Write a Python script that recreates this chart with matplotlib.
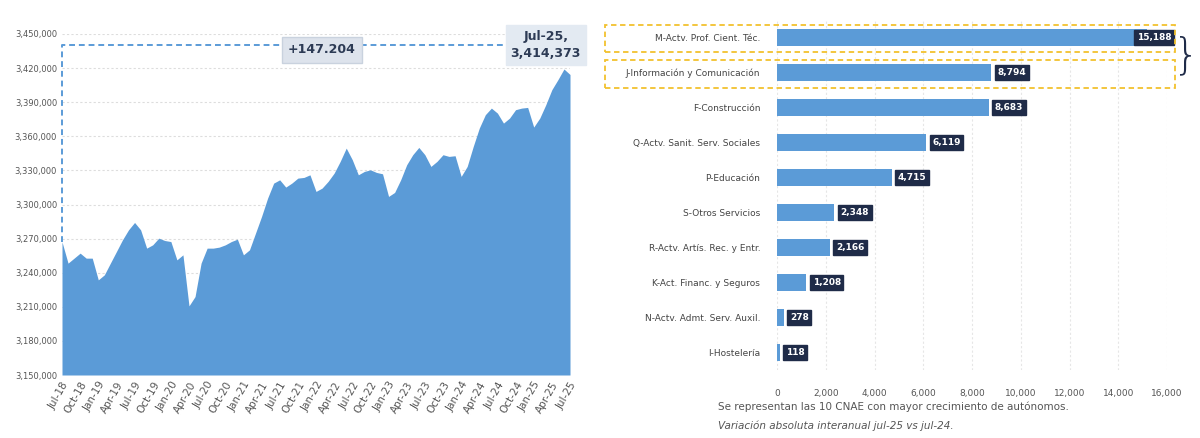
import matplotlib.pyplot as plt
import matplotlib.patches as mpatches
import pandas as pd
from matplotlib.ticker import FuncFormatter

# Afiliados autónomos, miles (jul-18 a jul-25)
afiliados = [
    3267.169, 3248.4, 3252.8, 3257.2, 3252.8, 3252.8, 3233.7, 3238.1, 3248.4, 3258.6,
    3268.9, 3277.7, 3284.2, 3277.7, 3261.6, 3264.5, 3270.4, 3268.3, 3267.4, 3251.3,
    3255.7, 3210.8, 3219.0, 3248.4, 3261.6, 3261.6, 3262.5, 3264.5, 3267.4, 3269.5,
    3255.7, 3260.1, 3274.8, 3289.5, 3305.6, 3318.8, 3321.7, 3315.3, 3318.8, 3323.2,
    3323.8, 3326.1, 3311.5, 3314.4, 3320.3, 3327.6, 3337.9, 3349.6, 3339.4, 3326.1,
    3329.1, 3330.5, 3328.2, 3327.0, 3307.1, 3310.6, 3321.7, 3335.0, 3343.8, 3350.2,
    3343.8, 3333.5, 3337.9, 3343.8, 3342.3, 3342.9, 3324.7, 3333.5, 3351.1, 3367.2,
    3379.0, 3384.8, 3380.4, 3371.6, 3376.0, 3383.4, 3384.8, 3385.4, 3368.1, 3376.0,
    3387.8, 3401.0, 3409.8, 3419.2, 3414.373,
]
afiliados = [round(v * 1000) for v in afiliados]
meses = pd.date_range("2018-07-01", periods=len(afiliados), freq="MS")
mes_labels = [d.strftime("%b-%y") for d in meses]

sectores = [
    "M-Actv. Prof. Cient. Téc.", "J-Información y Comunicación", "F-Construcción",
    "Q-Actv. Sanit. Serv. Sociales", "P-Educación", "S-Otros Servicios",
    "R-Actv. Artís. Rec. y Entr.", "K-Act. Financ. y Seguros",
    "N-Actv. Admt. Serv. Auxil.", "I-Hostelería",
]
variacion = [15188, 8794, 8683, 6119, 4715, 2348, 2166, 1208, 278, 118]

BLUE = "#5b9bd7"
NAVY = "#1f2b48"
GRAY = "#555555"

fig = plt.figure(figsize=(12, 4.38), dpi=100)

## Left chart.
ax = fig.add_axes([62 / 1200, 63 / 438, 508 / 1200, 341 / 438])
x = list(range(len(afiliados)))
ax.fill_between(x, afiliados, 3150000, color=BLUE, linewidth=0)
ax.set_xlim(0, len(afiliados) - 1)
ax.set_ylim(3150000, 3450000)
ax.set_yticks(range(3150000, 3450001, 30000))
ax.yaxis.set_major_formatter(FuncFormatter(lambda v, p: f"{int(v):,}"))
ax.tick_params(axis="y", labelsize=6, colors=GRAY, length=0)
ax.set_xticks(x[::3])
ax.set_xticklabels(mes_labels[::3], rotation=60, ha="right", rotation_mode="anchor",
                   fontsize=7.5, color=GRAY)
ax.tick_params(axis="x", length=0)
ax.yaxis.grid(color="#dddddd", linewidth=0.8, linestyle=(0, (2, 2)))
ax.set_axisbelow(True)
for s in ax.spines.values():
    s.set_visible(False)

# Dashed bracket from the start to the last month.
top = 3440000
ax.plot([0, 0, len(afiliados) - 1], [afiliados[0], top, top], color=BLUE,
        linestyle=(0, (3, 2)), linewidth=1.4, clip_on=False)
diff = afiliados[-1] - afiliados[0]
ax.text(43, top - 4000, f"+{diff:,.0f}".replace(",", "."), ha="center", va="center",
        fontsize=9, fontweight="bold", color="#2d3b55",
        bbox=dict(boxstyle="square,pad=0.5", fc="#dde3ec", ec="#c9d2de"))
ax.text(len(afiliados) - 5, top, f"Jul-25,\n{afiliados[-1]:,.0f}", ha="center",
        va="center", fontsize=9, fontweight="bold", color="#2d3b55", linespacing=1.4,
        bbox=dict(boxstyle="square,pad=0.4", fc="#e3eaf2", ec="#e3eaf2"))

## Right chart.
bx = fig.add_axes([777 / 1200, 68 / 438, 390 / 1200, 350 / 438])
y = list(range(len(sectores)))
bx.barh(y, variacion, height=0.5, color=BLUE)
bx.set_ylim(len(sectores) - 0.5, -0.5)
bx.set_xlim(0, 16000)
bx.set_xticks(range(0, 16001, 2000))
bx.xaxis.set_major_formatter(FuncFormatter(lambda v, p: f"{int(v):,}"))
bx.tick_params(axis="x", labelsize=6.5, colors=GRAY, length=0, pad=14)
bx.set_yticks(y)
bx.set_yticklabels(sectores, fontsize=6.5, color="#444444")
bx.tick_params(axis="y", length=0, pad=12)
bx.xaxis.grid(color="#e6e6e6", linewidth=0.8, linestyle=(0, (2, 2)))
bx.set_axisbelow(True)
for s in bx.spines.values():
    s.set_visible(False)
for yi, v in zip(y, variacion):
    # The longest bar has its label sitting over the bar end.
    pos, ha = (v + 1000, "right") if v > 15000 else (v + 250, "left")
    bx.text(pos, yi, f"{v:,}", ha=ha, va="center", fontsize=6.5,
            fontweight="bold", color="white",
            bbox=dict(boxstyle="square,pad=0.3", fc=NAVY, ec=NAVY))

# Highlight boxes around the top two sectors (figure pixels).
for y0, y1 in [(25, 52), (60, 88)]:
    fig.patches.append(mpatches.Rectangle(
        (605 / 1200, 1 - y1 / 438), 570 / 1200, (y1 - y0) / 438,
        transform=fig.transFigure, fill=False, ec="#f2c12e", lw=1.3,
        linestyle=(0, (3, 2))))
fig.text(1186 / 1200, 1 - 56 / 438, "}", fontsize=30, color=NAVY, ha="center",
         va="center", fontweight="light")

fig.text(718 / 1200, 1 - 407 / 438,
         "Se representan las 10 CNAE con mayor crecimiento de autónomos.",
         fontsize=7.5, color=GRAY, va="center")
fig.text(718 / 1200, 1 - 426 / 438,
         "Variación absoluta interanual jul-25 vs jul-24.",
         fontsize=7.5, color=GRAY, style="italic", va="center")

fig.savefig("out.png", dpi=100)
